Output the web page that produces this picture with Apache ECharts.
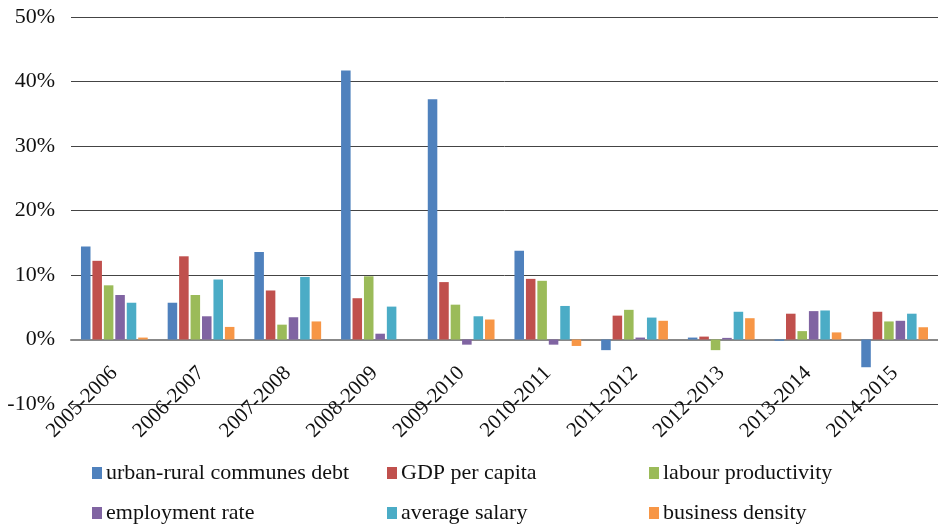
<!DOCTYPE html>
<html>
<head>
<meta charset="utf-8">
<script src="https://cdn.jsdelivr.net/npm/echarts@6/dist/echarts.min.js"></script>
<style>html,body{margin:0;padding:0;background:#fff}#c{width:938px;height:527px}</style>
</head>
<body>
<div id="c"></div>
<script>
const categories = ['2005-2006','2006-2007','2007-2008','2008-2009','2009-2010','2010-2011','2011-2012','2012-2013','2013-2014','2014-2015'];
const seriesNames = ['urban-rural communes debt','GDP per capita','labour productivity','employment rate','average salary','business density'];
const debt         = [14.4, 5.7, 13.55, 41.7, 37.25, 13.75, -1.65, 0.3, -0.2, -4.3];
const gdp          = [12.2, 12.9, 7.6, 6.4, 8.9, 9.4, 3.7, 0.45, 4.0, 4.3];
const productivity = [8.4, 6.9, 2.3, 9.8, 5.4, 9.1, 4.6, -1.65, 1.3, 2.8];
const employment   = [6.9, 3.6, 3.45, 0.9, -0.8, -0.8, 0.3, 0.25, 4.4, 2.9];
const salary       = [5.7, 9.3, 9.7, 5.1, 3.6, 5.2, 3.4, 4.3, 4.5, 4.0];
const density      = [0.3, 1.95, 2.8, 0, 3.1, -1.0, 2.9, 3.3, 1.1, 1.9];
const yTicks = {min: -10, max: 50, interval: 10};

const colors = ['#4F81BD','#C0504D','#9BBB59','#8064A2','#4BACC6','#F79646'];
const values = [debt, gdp, productivity, employment, salary, density];
const font = 'Liberation Serif';

const legendLeft = [92, 387, 649, 92, 387, 649];
const legendTop = [462, 462, 462, 502, 502, 502];
const legends = seriesNames.map((n, i) => ({
  left: legendLeft[i], top: legendTop[i], itemWidth: 10, itemHeight: 12,
  icon: 'rect', selectedMode: false, data: [n], padding: 0,
  textStyle: {fontFamily: font, fontSize: 22, color: '#111', padding: [0,0,0,-1]}
}));

const chart = echarts.init(document.getElementById('c'), null, {renderer: 'canvas'});
chart.setOption({
  animation: false,
  color: colors,
  textStyle: {fontFamily: font},
  legend: legends,
  grid: {left: 71, right: 0, top: 17, bottom: 123, containLabel: false},
  xAxis: {
    type: 'category', data: categories,
    axisLine: {onZero: true, lineStyle: {color: '#888', width: 2}},
    axisTick: {show: false},
    axisLabel: {rotate: 45, fontFamily: font, fontSize: 21, color: '#111', margin: -34, interval: 0}
  },
  yAxis: {
    type: 'value', min: yTicks.min, max: yTicks.max, interval: yTicks.interval,
    axisLine: {show: false}, axisTick: {show: false},
    axisLabel: {formatter: '{value}%', fontFamily: font, fontSize: 22, color: '#111', margin: 16},
    splitLine: {lineStyle: {color: '#444', width: 1}}
  },
  series: seriesNames.map((n, i) => ({
    name: n, type: 'bar', data: values[i],
    barGap: '20%', barCategoryGap: '23%',
    itemStyle: {color: colors[i]}
  }))
});
</script>
</body>
</html>
